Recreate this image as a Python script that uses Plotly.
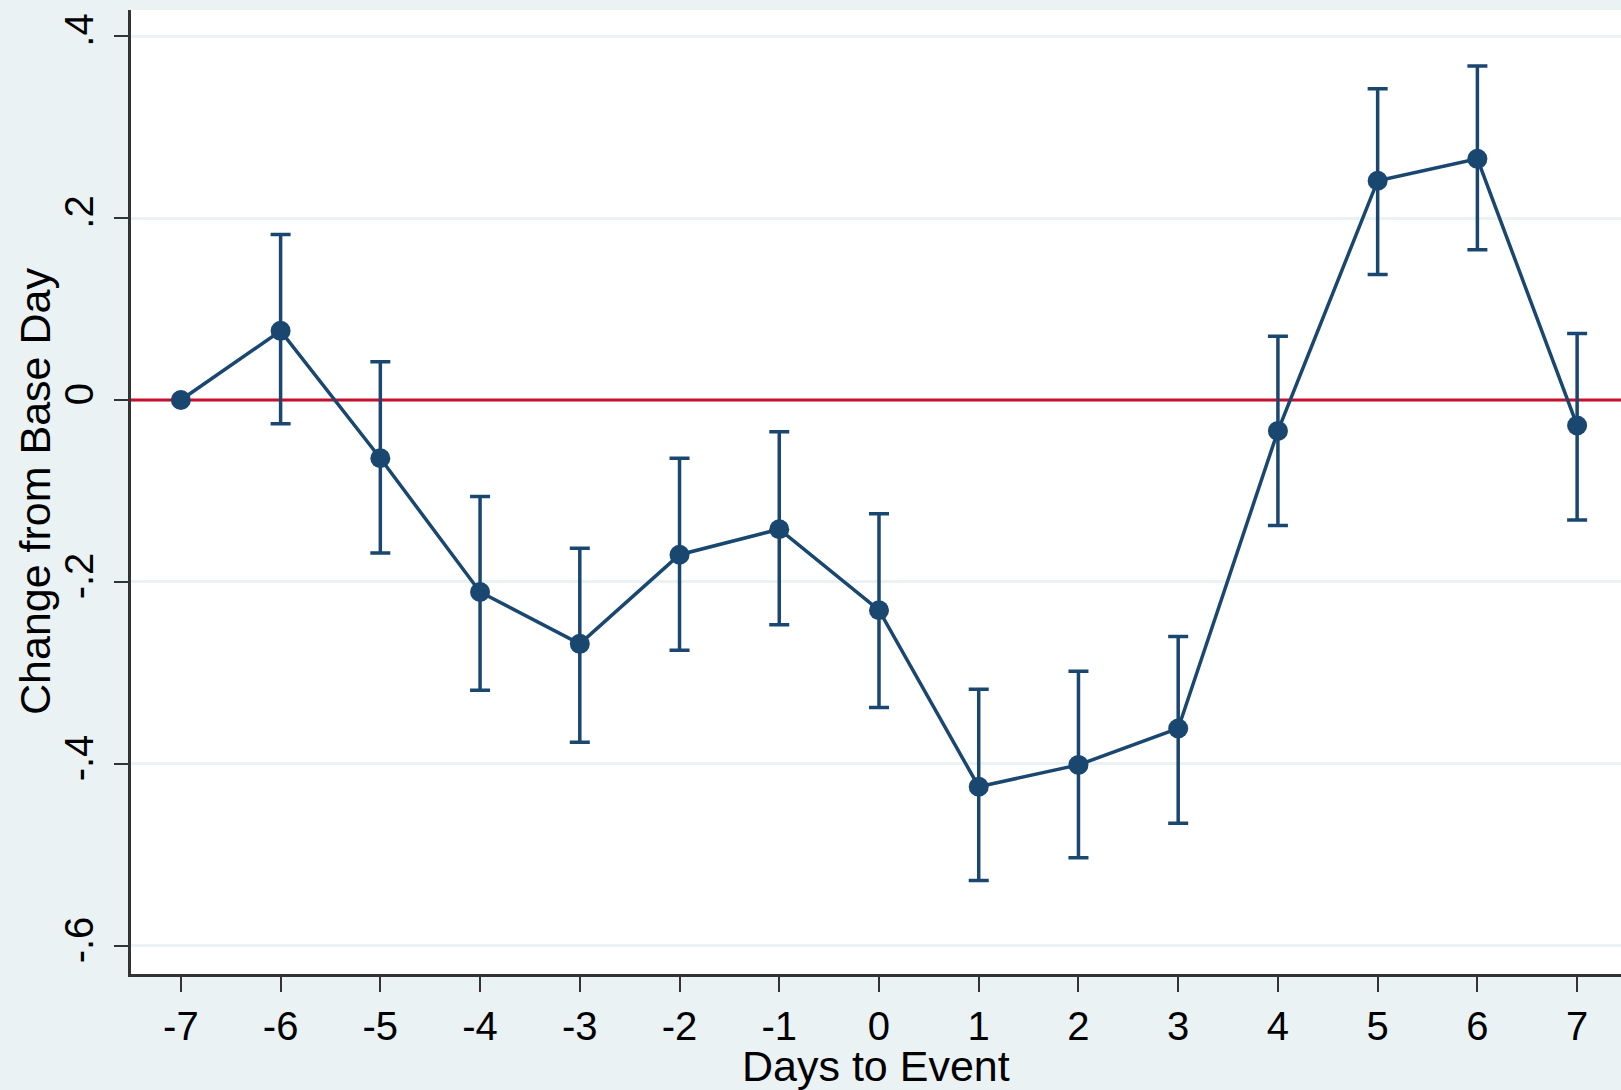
import plotly.graph_objects as go

days = [-7, -6, -5, -4, -3, -2, -1, 0, 1, 2, 3, 4, 5, 6, 7]
estimate = [0.0, 0.076, -0.064, -0.211, -0.268, -0.170, -0.142, -0.231, -0.425, -0.401, -0.361, -0.034, 0.241, 0.265, -0.028]
ci_upper = [None, 0.182, 0.042, -0.106, -0.163, -0.064, -0.035, -0.125, -0.318, -0.298, -0.260, 0.070, 0.342, 0.367, 0.073]
ci_lower = [None, -0.026, -0.168, -0.319, -0.376, -0.275, -0.247, -0.338, -0.528, -0.503, -0.465, -0.138, 0.138, 0.165, -0.132]
y_ticks = [-0.6, -0.4, -0.2, 0, 0.2, 0.4]
y_ticklabels = ["-.6", "-.4", "-.2", "0", ".2", ".4"]
x_ticks = days
x_ticklabels = [str(d) for d in days]
x_title = "Days to Event"
y_title = "Change from Base Day"

NAVY = "#1a476f"
RED = "#c8102e"
BG = "#eaf2f3"
FONT = "Liberation Sans, Arial, sans-serif"

err_plus = [0 if u is None else u - e for u, e in zip(ci_upper, estimate)]
err_minus = [0 if l is None else e - l for l, e in zip(ci_lower, estimate)]
has_ci = [u is not None for u in ci_upper]

fig = go.Figure()

# horizontal reference line at zero
fig.add_trace(go.Scatter(
    x=[-7.6, 7.6], y=[0, 0], mode="lines",
    line=dict(color=RED, width=3), hoverinfo="skip", showlegend=False,
))

# confidence intervals
fig.add_trace(go.Scatter(
    x=[d for d, h in zip(days, has_ci) if h],
    y=[e for e, h in zip(estimate, has_ci) if h],
    mode="markers", marker=dict(size=1, color="rgba(0,0,0,0)"),
    error_y=dict(type="data", symmetric=False,
                 array=[p for p, h in zip(err_plus, has_ci) if h],
                 arrayminus=[m for m, h in zip(err_minus, has_ci) if h],
                 color=NAVY, thickness=3.5, width=10),
    showlegend=False, hoverinfo="skip",
))

# estimates
fig.add_trace(go.Scatter(
    x=days, y=estimate, mode="lines+markers",
    line=dict(color=NAVY, width=3.5),
    marker=dict(color=NAVY, size=20),
    showlegend=False,
))

fig.update_layout(
    width=1621, height=1090,
    margin=dict(l=131, r=0, t=10, b=116),
    paper_bgcolor=BG, plot_bgcolor="white",
    font=dict(family=FONT, size=40, color="black"),
    showlegend=False,
    annotations=[
        dict(text=x_title, xref="paper", yref="paper", x=0.5, y=0,
             xanchor="center", yanchor="middle", yshift=-92, showarrow=False,
             font=dict(size=43, family=FONT, color="black")),
        dict(text=y_title, xref="paper", yref="paper", x=0, y=0.5,
             xanchor="center", yanchor="middle", xshift=-96, textangle=-90,
             showarrow=False, font=dict(size=43, family=FONT, color="black")),
    ],
)

fig.update_xaxes(
    range=[-7.5, 7.44],
    tickmode="array", tickvals=x_ticks, ticktext=x_ticklabels,
    ticks="outside", ticklen=15, tickwidth=2, tickcolor="#333333",
    showline=True, linecolor="#333333", linewidth=2.5,
    showgrid=False, zeroline=False,
    tickfont=dict(size=40),
)

fig.update_yaxes(
    range=[-0.6308, 0.4286],
    tickmode="array", tickvals=y_ticks, ticktext=y_ticklabels,
    tickangle=-90,
    ticks="outside", ticklen=14, tickwidth=2, tickcolor="#333333",
    ticklabelstandoff=5,
    showline=True, linecolor="#333333", linewidth=2.5,
    showgrid=True, gridcolor=BG, gridwidth=3,
    zeroline=False,
    tickfont=dict(size=40),
)

fig.write_html("out.html")
